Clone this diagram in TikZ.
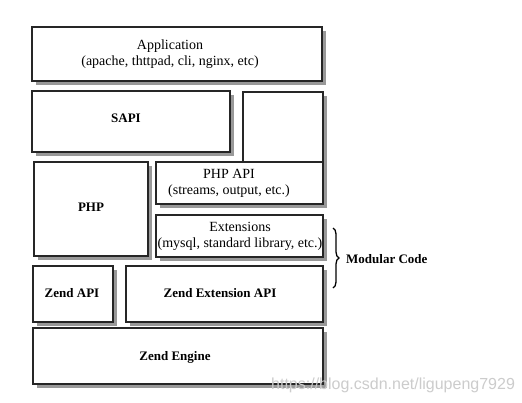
\documentclass[tikz,border=0pt]{standalone}
\usepackage{fontspec}
\setmainfont{Liberation Serif}
\newfontfamily\wmfont{Liberation Sans}
\usetikzlibrary{decorations.pathreplacing}
\definecolor{shadowc}{gray}{0.6}
\begin{document}
\begin{tikzpicture}[x=1pt,y=-1pt,
  layerbox/.style={draw=black!85, line width=1.5pt, fill=white, inner sep=0pt, outer sep=0pt},
  shadowbox/.style={fill=shadowc},
  lbl/.style={font=\fontsize{14}{16}\selectfont, align=center, inner sep=0pt},
  blbl/.style={font=\fontsize{13}{16}\selectfont\bfseries, align=center, inner sep=0pt}]
\fill[white] (0,0) rectangle (522,402);
\useasboundingbox (0,0) rectangle (522,402);
% shadows
\fill[shadowbox] (36,31) rectangle (326,85);
\fill[shadowbox] (36,95) rectangle (234,156);
\fill[shadowbox] (247,96) rectangle (327,166);
\fill[shadowbox] (38,166) rectangle (152,260);
\fill[shadowbox] (160,166) rectangle (327,208);
\fill[shadowbox] (160,219) rectangle (327,261);
\fill[shadowbox] (37,270) rectangle (117,326);
\fill[shadowbox] (130,270) rectangle (327,326);
\fill[shadowbox] (37,332) rectangle (327,388);
% boxes
\node[layerbox, minimum width=290pt, minimum height=54pt] (app) at (177,54) {};
\node[layerbox, minimum width=198pt, minimum height=61pt] (sapi) at (131,121.5) {};
\node[layerbox, minimum width=80pt, minimum height=70pt] (tall) at (283,127) {};
\node[layerbox, minimum width=114pt, minimum height=94pt] (php) at (91,209) {};
\node[layerbox, minimum width=167pt, minimum height=42pt] (phpapi) at (239.5,183) {};
\node[layerbox, minimum width=167pt, minimum height=42pt] (ext) at (239.5,236) {};
\node[layerbox, minimum width=80pt, minimum height=56pt] (zapi) at (73,294) {};
\node[layerbox, minimum width=197pt, minimum height=56pt] (zext) at (224.5,294) {};
\node[layerbox, minimum width=290pt, minimum height=56pt] (zeng) at (178,356) {};
% labels
\node[lbl] (tapp) at (170,54) {Application\\(apache, thttpad, cli, nginx, etc)};
\node[blbl] (tsapi) at (126,118) {SAPI};
\node[blbl] (tphp) at (91,207) {PHP};
\node[lbl] (tphpapi) at (229,183) {PHP API\\(streams, output, etc.)};
\node[lbl] (text) at (240,236) {Extensions\\(mysql, standard library, etc.)};
\node[blbl] (tzapi) at (72,293) {Zend API};
\node[blbl] (tzext) at (220,293) {Zend Extension API};
\node[blbl] (tzeng) at (175,357) {Zend Engine};
% brace
\coordinate (bt) at (333,228);
\coordinate (bb) at (333,288);
\draw[decorate, decoration={brace, amplitude=6pt}, line width=1.3pt] (bt) -- (bb);
\node[blbl, anchor=west] (tmod) at (346,259) {Modular Code};
% watermark
\node[anchor=base west, inner sep=0pt, font=\wmfont\fontsize{16}{16}\selectfont, text=gray!40] (wm) at (271,389) {https://blog.csdn.net/ligupeng7929};
\end{tikzpicture}
\end{document}
